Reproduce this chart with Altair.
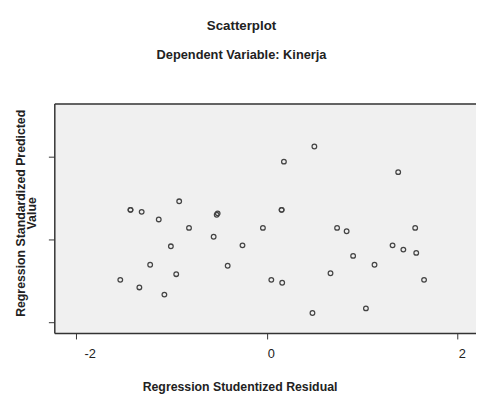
import altair as alt
import pandas as pd

# Regression Studentized Residual (x) and Regression Standardized Predicted Value (y)
resid = [-1.428, -1.428, -1.311, -1.132, -0.918, -0.815, -1.005, -1.222, -0.949,
         -1.535, -1.335, -1.073, -0.515, -0.525, -0.557, -0.255, -0.410, -0.041,
         0.179, 0.155, 0.155, 0.047, 0.161, 0.498, 1.376, 0.736, 0.836, 1.554,
         1.317, 1.430, 1.565, 0.904, 1.128, 0.667, 1.647, 0.478, 1.038]
pred = [0.713, 0.713, 0.665, 0.482, 0.919, 0.278, -0.166, -0.610, -0.838,
        -0.974, -1.157, -1.330, 0.629, 0.594, 0.064, -0.143, -0.634, 0.278,
        1.876, 0.713, 0.713, -0.974, -1.045, 2.240, 1.622, 0.278, 0.197, 0.278,
        -0.143, -0.245, -0.325, -0.397, -0.610, -0.815, -0.974, -1.774, -1.663]
tick_values = [-2, 0, 2]

df = pd.DataFrame({"resid": resid, "pred": pred})

FONT = "Liberation Sans"
x_scale = alt.Scale(domain=[-2.226, 2.191], nice=False, zero=False)
y_scale = alt.Scale(domain=[-2.257, 3.278], nice=False, zero=False)
y_title = ["Regression Standardized Predicted", "Value"]

points = alt.Chart(df).mark_point(
    shape="circle", filled=False, size=22, strokeWidth=1.3, color="#444444", opacity=1
).encode(
    x=alt.X("resid:Q", scale=x_scale, axis=alt.Axis(
        orient="bottom", values=tick_values, labelExpr="'' + datum.value", grid=False,
        domainColor="#333333", domainWidth=1.5, tickColor="#333333", tickSize=6,
        labelFont=FONT, labelFontSize=13, labelColor="#222222", labelPadding=9,
        labelOffset={"condition": {"test": "datum.value == -2", "value": 14}, "value": 4},
        title="Regression Studentized Residual", titleFont=FONT, titleFontSize=12.5,
        titleFontWeight="bold", titleColor="#222222", titleX=188, titleY=58,
        titleBaseline="alphabetic")),
    y=alt.Y("pred:Q", scale=y_scale, axis=alt.Axis(
        values=tick_values, labels=False, grid=False,
        domainColor="#333333", domainWidth=1.5, tickColor="#333333", tickSize=6,
        title=y_title, titleFont=FONT, titleFontSize=12.5, titleFontWeight="bold",
        titleColor="#222222", titleX=-30, titleY=111, titleBaseline="alphabetic",
        titleAngle=270, titleLineHeight=11)),
)

top = alt.Chart(df).mark_point(opacity=0).encode(
    x=alt.X("resid:Q", scale=x_scale, axis=alt.Axis(
        orient="top", labels=False, ticks=False, grid=False, title="",
        domainColor="#333333", domainWidth=1.5)),
    y=alt.Y("pred:Q", scale=y_scale, title=y_title),
)

chart = alt.layer(points, top).resolve_axis(x="independent").properties(
    width=428, height=233,
    padding={"left": 47, "top": 94, "right": 0, "bottom": 62},
    autosize=alt.AutoSizeParams(type="none"),
    title=alt.TitleParams(
        text="Scatterplot", subtitle="Dependent Variable: Kinerja",
        anchor="middle", dx=-24, offset=42, font=FONT, fontSize=13.5,
        fontWeight="bold", color="#222222", subtitleFont=FONT,
        subtitleFontSize=13, subtitleFontWeight="bold", subtitleColor="#222222",
        subtitlePadding=17),
).configure_view(fill="#f0f0f0", stroke="transparent", strokeWidth=0)

chart.save("out.html", embed_options={"renderer": "svg", "actions": False})
